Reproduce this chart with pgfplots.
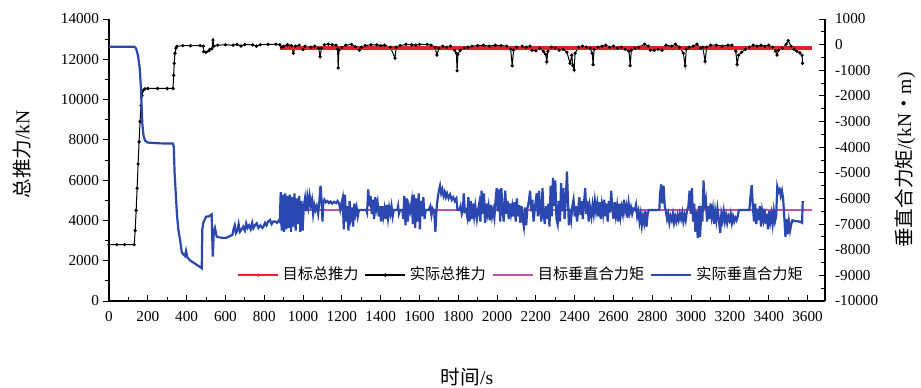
\documentclass[border=0pt]{standalone}
\usepackage{pgfplots}
\pgfplotsset{compat=1.18}
\usepackage{fontspec}
\setmainfont{Liberation Serif}
\newfontfamily\cjk{Noto Sans CJK SC}
\definecolor{cred}{RGB}{232,32,42}
\definecolor{cmag}{RGB}{200,80,175}
\definecolor{cblue}{RGB}{42,72,175}
\begin{document}
\begin{tikzpicture}
\path[use as bounding box] (-54.5pt,-43pt) rectangle (406pt,150.5pt);
\pgfplotsset{
  base/.style={
    width=358pt, height=141pt, scale only axis,
    xmin=0, xmax=3690,
    axis line style={-, line width=0.6pt},
    tick style={line width=0.5pt, black},
    major tick length=3pt, minor tick length=1.8pt,
    tick label style={font=\fontsize{7.6}{8}\selectfont},
    /pgf/number format/assume math mode=true,
    /pgf/number format/1000 sep={},
    scaled ticks=false,
  }
}
\begin{axis}[base,
  axis x line*=bottom, axis y line*=left,
  ymin=0, ymax=14000,
  xtick={0,200,...,3600}, minor x tick num=1,
  ytick={0,2000,...,14000}, minor y tick num=1,
  xtick align=inside, ytick align=outside,
  xticklabel style={yshift=-1.5pt},
  yticklabel style={xshift=1.5pt},
  xlabel={{\cjk 时间}/s},
  xlabel style={at={(axis description cs:0.5,-0.27)}, anchor=center, font=\fontsize{9.8}{10}\selectfont},
  ylabel={{\cjk 总推力}/kN},
  ylabel style={at={(axis description cs:-0.1215,0.52)}, anchor=center, font=\fontsize{9.8}{10}\selectfont},
]
\addplot[black, line width=0.5pt, mark=*, mark size=0.55pt] table {
t v
0 2800
40 2800
80 2800
130 2800
135 3500
140 4500
145 5600
150 6800
155 7900
160 8900
165 9700
170 10200
176 10450
185 10530
200 10550
250 10550
300 10550
330 10550
333 11200
336 11800
340 12300
345 12550
350 12640
380 12680
420 12670
470 12680
486 12650
488 12380
500 12350
515 12420
520 12500
530 12520
536 12950
540 12650
560 12700
600 12720
640 12700
660 12740
680 12660
700 12730
740 12720
760 12650
780 12720
820 12740
860 12750
880 12720
890 12600
900 12650
920 12720
940 12680
950 12300
960 12650
980 12700
1000 12480
1010 12650
1040 12600
1060 12650
1080 12550
1088 12130
1095 12550
1110 12720
1130 12750
1150 12720
1170 12700
1178 12500
1181 11570
1185 12450
1200 12580
1220 12700
1250 12740
1270 12620
1290 12450
1300 12600
1320 12680
1350 12720
1380 12720
1400 12680
1420 12700
1450 12600
1474 12060
1480 12600
1500 12680
1530 12740
1560 12720
1580 12700
1600 12740
1640 12740
1660 12700
1680 12600
1690 12210
1700 12550
1720 12650
1740 12600
1760 12650
1780 12450
1790 12300
1794 11430
1798 12250
1810 12450
1830 12550
1850 12600
1870 12650
1900 12680
1930 12700
1960 12650
1990 12700
2020 12680
2050 12650
2070 12500
2078 11680
2085 12450
2100 12600
2130 12650
2150 12600
2170 12650
2180 12450
2200 12420
2220 12550
2240 12380
2250 12250
2256 11880
2262 12400
2280 12600
2300 12550
2320 12450
2340 12500
2360 12350
2376 11800
2385 12200
2390 11700
2397 11470
2402 12300
2420 12600
2440 12650
2460 12600
2480 12550
2490 12300
2495 11735
2500 12500
2520 12600
2540 12650
2560 12700
2580 12600
2600 12650
2620 12550
2640 12600
2660 12500
2680 12400
2686 11680
2692 12450
2710 12550
2730 12600
2760 12750
2780 12650
2790 12450
2810 12450
2830 12500
2850 12450
2870 12700
2900 12650
2920 12750
2940 12600
2960 12300
2969 11680
2975 12500
2990 12600
3010 12650
3030 12750
3050 12550
3060 12600
3072 11900
3080 12600
3100 12700
3130 12700
3160 12650
3190 12700
3210 12700
3230 12400
3237 11750
3245 12200
3260 12350
3280 12500
3300 12600
3320 12700
3340 12650
3360 12700
3380 12650
3400 12700
3420 12600
3435 12400
3443 12210
3450 12450
3470 12550
3490 12750
3500 12925
3515 12650
3530 12500
3545 12400
3560 12320
3572 12200
3574 11800
};
\addplot[cred, line width=2pt] coordinates {(880,12580) (3625,12580)};
\end{axis}
\begin{axis}[base,
  axis x line=none, axis y line*=right,
  ymin=-10000, ymax=1000,
  ytick={-10000,-9000,...,1000}, minor y tick num=1,
  ytick align=inside,
  yticklabel style={xshift=1.5pt},
  ylabel={{\cjk 垂直合力矩}/(kN{\cjk ・}m)},
  ylabel style={at={(axis description cs:1.1117,0.5)}, anchor=center, rotate=0, font=\fontsize{9.8}{10}\selectfont},
  legend style={draw=none, fill=none, at={(axis description cs:0.577,0.092)}, anchor=center,
    legend columns=4, font=\fontsize{7.6}{8}\selectfont\cjk,
    /tikz/every even column/.append style={column sep=1pt},
    /tikz/every odd column/.append style={column sep=0pt}},
  legend cell align=left,
  legend image code/.code={\draw[mark repeat=2, mark phase=2, #1] plot coordinates {(0pt,0pt) (10pt,0pt) (20pt,0pt)};},
]
\addlegendimage{cred, line width=0.6pt, mark=*, mark size=0.5pt}
\addlegendentry{目标总推力}
\addlegendimage{black, line width=0.6pt, mark=*, mark size=0.6pt}
\addlegendentry{实际总推力}
\addplot[cmag, line width=1pt] coordinates {(880,-6450) (3625,-6450)};
\addlegendentry{目标垂直合力矩}
\addplot[cblue, line width=1.1pt] table {
t v
0 -80
130 -80
140 -150
150 -450
158 -900
164 -1600
168 -2400
172 -3100
178 -3550
186 -3750
200 -3820
260 -3850
330 -3860
334 -4000
338 -5000
344 -5800
350 -6600
357 -7200
366 -7600
375 -8100
385 -8200
392 -8250
397 -8050
404 -8300
418 -8420
435 -8500
452 -8590
465 -8650
478 -8720
481 -7200
486 -6950
495 -6800
500 -6710
515 -6700
529 -6620
532 -7500
535 -8270
540 -7300
546 -7150
555 -7490
570 -7520
590 -7540
606 -7530
620 -7480
636 -7420
642 -7200
648 -7050
654 -7350
662 -7250
668 -7000
675 -7300
684 -7200
692 -7100
700 -7250
707 -6970
714 -7150
722 -7050
730 -7200
738 -6950
744 -7160
752 -7050
761 -6970
770 -7150
780 -7050
790 -7150
796 -7100
804 -6950
812 -7050
820 -6900
830 -6840
838 -7000
846 -6900
856 -6900
866 -6950
876 -6850
880 -6900
885 -5750
890 -7250
896 -5850
902 -7300
908 -5800
914 -7200
920 -5900
926 -7150
932 -5850
938 -7300
944 -5950
950 -7100
956 -5800
962 -7250
968 -6000
974 -7000
980 -5900
986 -7300
992 -6100
998 -7250
1004 -6300
1010 -6000
1016 -6500
1022 -5950
1028 -6300
1034 -5900
1040 -6250
1046 -6050
1052 -6600
1058 -6250
1064 -6450
1070 -6300
1078 -6600
1084 -6100
1090 -5500
1096 -6150
1100 -6900
1104 -6200
1110 -6050
1118 -6150
1126 -6100
1134 -6180
1142 -6120
1150 -6200
1160 -6130
1170 -6180
1178 -6100
1186 -6200
1192 -6450
1204 -6000
1210 -7200
1216 -5850
1222 -6900
1228 -6300
1234 -7250
1240 -6100
1246 -6700
1252 -6350
1258 -7100
1264 -6200
1270 -6600
1276 -6350
1282 -6700
1288 -6450
1326 -6450
1330 -6550
1336 -5650
1342 -6300
1348 -5900
1354 -6600
1360 -6050
1366 -6800
1372 -5950
1378 -6400
1384 -6150
1390 -6700
1396 -6300
1402 -6900
1408 -6300
1414 -6700
1420 -6400
1426 -6800
1432 -6250
1438 -6750
1444 -6350
1450 -6600
1456 -6300
1462 -6700
1468 -6450
1486 -6450
1490 -6300
1494 -6600
1500 -6450
1512 -6450
1516 -6800
1522 -5900
1528 -7050
1534 -6000
1540 -6900
1546 -6300
1552 -6500
1560 -6100
1566 -7000
1572 -5850
1578 -7150
1584 -6000
1590 -6900
1596 -5800
1602 -7200
1608 -6100
1614 -6700
1620 -5950
1626 -6800
1632 -6450
1648 -6450
1656 -6300
1662 -6650
1668 -6400
1676 -6500
1682 -7300
1688 -6400
1694 -6000
1700 -5700
1706 -5500
1712 -5800
1718 -5650
1724 -5900
1730 -5750
1736 -5950
1742 -5800
1750 -6000
1758 -5850
1766 -6050
1774 -5950
1782 -6100
1790 -6000
1796 -6450
1806 -6450
1812 -6300
1818 -6600
1824 -6450
1828 -5800
1834 -6500
1840 -6450
1846 -6700
1852 -5950
1858 -6900
1864 -6100
1870 -6800
1876 -6200
1882 -6700
1888 -6300
1896 -6800
1902 -6450
1908 -6200
1914 -6900
1920 -5700
1926 -6600
1932 -5800
1938 -6950
1944 -6200
1950 -6600
1956 -6300
1962 -6850
1968 -6250
1974 -6700
1980 -6450
1986 -6750
1992 -6100
1998 -5600
2004 -6500
2010 -5650
2016 -6900
2022 -5600
2028 -6400
2034 -6900
2042 -5700
2048 -6600
2054 -6100
2060 -6800
2066 -6200
2072 -6600
2078 -6300
2084 -6700
2090 -6150
2096 -6900
2102 -6000
2108 -6700
2114 -6250
2120 -6950
2126 -6300
2132 -6800
2138 -7100
2144 -6350
2150 -7050
2156 -6400
2164 -6100
2170 -5700
2176 -6500
2182 -6050
2188 -6900
2196 -6300
2204 -5800
2210 -6700
2216 -5700
2222 -6400
2228 -6900
2234 -5600
2240 -6600
2246 -7000
2252 -6300
2258 -6800
2264 -6200
2270 -7100
2276 -5500
2282 -6700
2288 -5200
2294 -6300
2300 -5300
2306 -6800
2312 -7000
2318 -6100
2324 -6900
2330 -5400
2336 -6500
2342 -5600
2348 -6800
2354 -6100
2360 -4950
2366 -6200
2370 -7050
2376 -6400
2382 -6800
2388 -6300
2394 -6050
2400 -6700
2406 -6300
2412 -6900
2418 -6450
2424 -5950
2430 -6650
2436 -6100
2442 -6800
2448 -6200
2454 -5600
2460 -6600
2466 -6100
2472 -6900
2478 -6300
2486 -6700
2492 -6250
2498 -6600
2504 -6100
2510 -6500
2516 -6200
2522 -6700
2528 -6150
2534 -6800
2540 -6250
2546 -6600
2552 -6050
2558 -6700
2564 -6200
2570 -6900
2576 -6100
2582 -6550
2588 -5700
2594 -6400
2600 -6800
2606 -6150
2612 -6650
2618 -6300
2624 -6900
2630 -6200
2636 -6700
2642 -6350
2648 -6600
2654 -6050
2660 -6500
2666 -6300
2672 -6750
2678 -6200
2684 -6550
2690 -6350
2696 -6600
2702 -6400
2710 -6450
2716 -6250
2722 -6700
2728 -6500
2734 -6900
2740 -6600
2746 -7050
2752 -6700
2758 -6950
2764 -6500
2770 -7100
2776 -6600
2782 -6450
2836 -6450
2840 -5800
2846 -5450
2852 -6200
2858 -5500
2864 -6300
2870 -6500
2876 -6800
2882 -6600
2888 -6950
2894 -6700
2900 -6850
2906 -6600
2912 -6950
2918 -6700
2924 -6900
2930 -6650
2936 -6850
2942 -6600
2948 -6800
2954 -6550
2960 -6900
2966 -6650
2972 -6850
2978 -6500
2986 -6300
2992 -5700
2998 -6600
3004 -5600
3010 -6900
3016 -6200
3022 -7300
3028 -6500
3034 -7550
3040 -6300
3046 -7500
3052 -6600
3058 -6900
3064 -5300
3070 -6400
3076 -6100
3082 -6900
3088 -6300
3094 -6800
3100 -6200
3106 -6700
3112 -6400
3118 -7000
3124 -6500
3130 -6850
3136 -6400
3142 -6750
3150 -7350
3156 -6600
3162 -6850
3168 -6500
3174 -6900
3180 -6650
3186 -6950
3192 -6700
3198 -6850
3204 -6600
3210 -6950
3216 -6700
3222 -6900
3228 -6750
3234 -6850
3240 -6700
3246 -6450
3300 -6450
3306 -5900
3312 -5480
3318 -6300
3324 -6900
3330 -6200
3336 -7000
3342 -6400
3348 -6850
3354 -6300
3360 -7100
3366 -6500
3372 -6800
3378 -6400
3384 -7000
3390 -6600
3396 -7200
3402 -6500
3408 -6900
3414 -6600
3420 -7000
3426 -6500
3432 -6900
3438 -6700
3444 -5550
3450 -5750
3456 -5650
3462 -5900
3468 -5700
3474 -6000
3480 -6700
3486 -7500
3492 -6800
3498 -7400
3504 -6900
3510 -7250
3516 -7000
3522 -6850
3530 -6880
3560 -6900
3572 -6950
3575 -6100
};
\addlegendentry{实际垂直合力矩}
\end{axis}
\end{tikzpicture}
\end{document}
